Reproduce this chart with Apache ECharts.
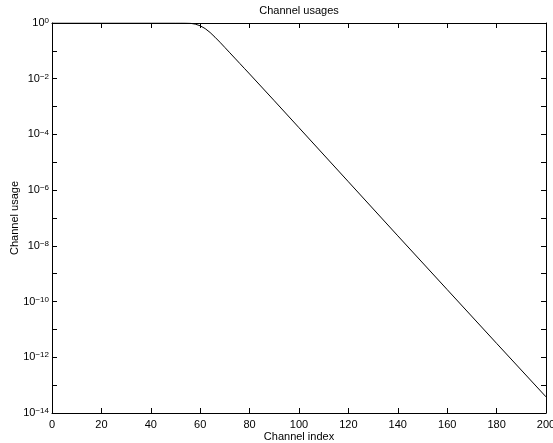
<!DOCTYPE html>
<html>
<head>
<meta charset="utf-8">
<script src="https://cdn.jsdelivr.net/npm/echarts@6/dist/echarts.min.js"></script>
<style>
html,body{margin:0;padding:0;background:#fff;}
#chart{width:553px;height:443px;}
</style>
</head>
<body>
<div id="chart"></div>
<script>
// Data
var channelIndex = [0, 50, 52, 54, 56, 58, 60, 62, 64, 66, 68, 70, 72, 74, 76, 78, 80, 90, 100, 120, 140, 160, 180, 200];
var channelUsage = [1, 1, 1, 0.995, 0.977, 0.912, 0.794, 0.631, 0.457, 0.309, 0.204, 0.132, 0.0851, 0.0550, 0.0355, 0.0229, 0.0148, 1.62e-3, 1.74e-4, 2.0e-6, 2.29e-8, 2.69e-10, 3.16e-12, 3.8e-14];
var xTicks = [0, 20, 40, 60, 80, 100, 120, 140, 160, 180, 200];
var yMinExp = -14, yMaxExp = 0;

var FONT = '"Liberation Sans", Arial, sans-serif';
var chart = echarts.init(document.getElementById('chart'), null, {renderer: 'canvas'});

var pts = channelIndex.map(function (x, i) { return [x, channelUsage[i]]; });

function yLabel(v) {
  var e = Math.round(Math.log10(v));
  if (e % 2 !== 0) return '';
  var s = e === 0 ? '0' : '\u2212' + Math.abs(e);
  return '{b|10}{s|' + s + '}';
}

var tickStyle = {show: true, inside: true, length: 5, lineStyle: {color: '#000', width: 1}};
var lineStyleAx = {show: true, onZero: false, lineStyle: {color: '#000', width: 1}};

chart.setOption({
  animation: false,
  backgroundColor: '#fff',
  grid: {left: 52, right: 7, top: 23, bottom: 30, containLabel: false, outerBoundsMode: 'none'},
  graphic: [{
    type: 'text', x: 299, y: 5,
    style: {text: 'Channel usages', textAlign: 'center', fill: '#000', font: '11px ' + FONT}
  }],
  xAxis: [{
    type: 'value', position: 'bottom', min: xTicks[0], max: xTicks[xTicks.length - 1], interval: 20,
    axisLine: lineStyleAx, axisTick: tickStyle, splitLine: {show: false},
    axisLabel: {color: '#000', fontSize: 11, fontFamily: FONT, margin: 6},
    name: 'Channel index', nameLocation: 'middle', nameGap: 18, nameMoveOverlap: false,
    nameTextStyle: {color: '#000', fontSize: 11, fontFamily: FONT}
  }, {
    type: 'value', position: 'top', min: xTicks[0], max: xTicks[xTicks.length - 1], interval: 20,
    axisLine: lineStyleAx, axisTick: tickStyle, splitLine: {show: false},
    axisLabel: {show: false}
  }],
  yAxis: [{
    type: 'log', logBase: 10, position: 'left', min: Math.pow(10, yMinExp), max: Math.pow(10, yMaxExp),
    interval: 1, splitNumber: 14,
    axisLine: lineStyleAx, axisTick: tickStyle, splitLine: {show: false}, minorTick: {show: false},
    axisLabel: {
      color: '#000', fontFamily: FONT, margin: 3, formatter: yLabel,
      rich: {
        b: {fontSize: 11, fontFamily: FONT, color: '#000', lineHeight: 12},
        s: {fontSize: 8, fontFamily: FONT, color: '#000', lineHeight: 9, verticalAlign: 'top'}
      }
    },
    name: 'Channel usage', nameLocation: 'middle', nameGap: 32, nameMoveOverlap: false,
    nameTextStyle: {color: '#000', fontSize: 11, fontFamily: FONT}
  }, {
    type: 'log', logBase: 10, position: 'right', min: Math.pow(10, yMinExp), max: Math.pow(10, yMaxExp),
    interval: 1, splitNumber: 14,
    axisLine: lineStyleAx, axisTick: tickStyle, splitLine: {show: false},
    axisLabel: {show: false}
  }],
  series: [{
    type: 'line', xAxisIndex: 0, yAxisIndex: 0, data: pts,
    showSymbol: false, symbol: 'none', smooth: false,
    lineStyle: {color: '#000', width: 1}
  }]
});
</script>
</body>
</html>
